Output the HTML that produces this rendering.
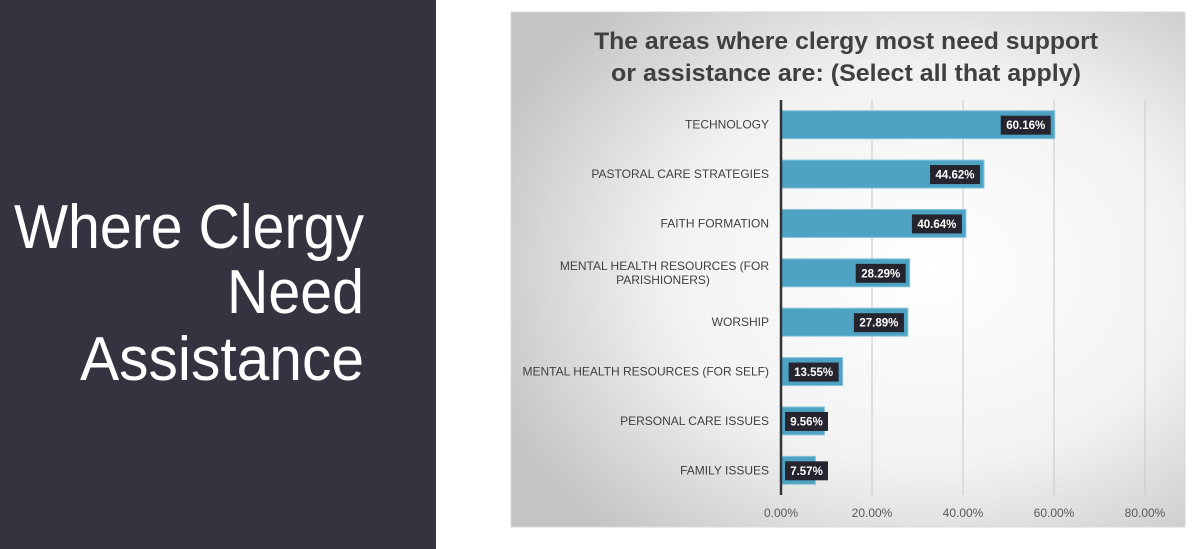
<!DOCTYPE html>
<html><head><meta charset="utf-8"><style>
html,body{margin:0;padding:0;width:1200px;height:549px;overflow:hidden;background:#fff;font-family:"Liberation Sans",sans-serif}
</style></head><body>
<svg width="1200" height="549" viewBox="0 0 1200 549" xmlns="http://www.w3.org/2000/svg">
<defs>
<radialGradient id="bg" cx="0.62" cy="0.5" r="0.7">
<stop offset="0" stop-color="#ffffff"/><stop offset="0.55" stop-color="#f2f2f2"/><stop offset="1" stop-color="#c4c4c4"/>
</radialGradient>
</defs>
<rect x="0" y="0" width="436" height="549" fill="#34333f"/>
<g fill="#ffffff" font-size="62" font-family="Liberation Sans, sans-serif" text-anchor="end">
<text x="364" y="248" textLength="350" lengthAdjust="spacingAndGlyphs">Where Clergy</text>
<text x="364" y="313" textLength="137" lengthAdjust="spacingAndGlyphs">Need</text>
<text x="364" y="380" textLength="284" lengthAdjust="spacingAndGlyphs">Assistance</text>
</g>
<rect x="511" y="12" width="674" height="515" fill="url(#bg)" stroke="#d8d8d8"/>
<g font-weight="bold" font-size="24.5" fill="#404040" text-anchor="middle">
<text x="846" y="49" textLength="504" lengthAdjust="spacingAndGlyphs">The areas where clergy most need support</text>
<text x="846" y="81" textLength="470" lengthAdjust="spacingAndGlyphs">or assistance are: (Select all that apply)</text>
</g>
<g id="chart"></g>
</svg>
<script>
const categories=["TECHNOLOGY","PASTORAL CARE STRATEGIES","FAITH FORMATION","MENTAL HEALTH RESOURCES (FOR|PARISHIONERS)","WORSHIP","MENTAL HEALTH RESOURCES (FOR SELF)","PERSONAL CARE ISSUES","FAMILY ISSUES"];
const values=[60.16,44.62,40.64,28.29,27.89,13.55,9.56,7.57];
const ticks=[0,20,40,60,80];
const tickLabels=["0.00%","20.00%","40.00%","60.00%","80.00%"];
const NS="http://www.w3.org/2000/svg";
const chartG=document.getElementById('chart');
const X0=781,X1=1145,PTOP=100,PBOT=495;
function xs(v){return X0+(v/80)*(X1-X0);}
const band=(PBOT-PTOP)/categories.length;
function yc(i){return PTOP+band*(i+0.5);}
function el(t,a){const e=document.createElementNS(NS,t);for(const k in a)e.setAttribute(k,a[k]);chartG.appendChild(e);return e;}
ticks.forEach((t,i)=>{
 if(t>0){const l=el('line',{x1:xs(t),x2:xs(t),y1:PTOP,y2:PBOT,stroke:'#c8c8c8','stroke-width':1});
 
 }
 const tx=el('text',{x:xs(t),y:517,'text-anchor':'middle','font-size':12,fill:'#595959'});
 tx.textContent=tickLabels[i];
 
 
});
categories.forEach((c,i)=>{
 const y=yc(i),v=values[i],bh=28;
 const b=el('rect',{x:X0,y:y-bh/2,width:xs(v)-X0,height:bh,fill:'#4ea3c4',stroke:'#8cc6dc','stroke-width':1});
 
 
 const txt=v.toFixed(2)+'%';
 const w=txt.length*7+8;
 let bx=xs(v)-w-4; if(bx<X0+4)bx=X0+4;
 const lb=el('rect',{x:bx,y:y-9,width:w,height:19,fill:'#26252f'});
 
 
 const vt=el('text',{x:bx+w/2,y:y+4.5,'text-anchor':'middle','font-size':11.5,'font-weight':'bold',fill:'#ffffff'});
 vt.textContent=txt;
 
 
 const parts=c.split('|');
 const ct=el('text',{x:769,'text-anchor':'end','font-size':12,fill:'#404040'});
 
 
 parts.forEach((p,k)=>{const s=document.createElementNS(NS,'tspan');s.setAttribute('x',k==0?769:663);s.setAttribute('y',y+4-(parts.length-1)*7+k*14);s.setAttribute('text-anchor',k==0?'end':'middle');s.textContent=p;ct.appendChild(s);});
});
const ax=el('line',{x1:X0,x2:X0,y1:PTOP,y2:PBOT,stroke:'#333',"stroke-width":2.5});


</script>
</body></html>
